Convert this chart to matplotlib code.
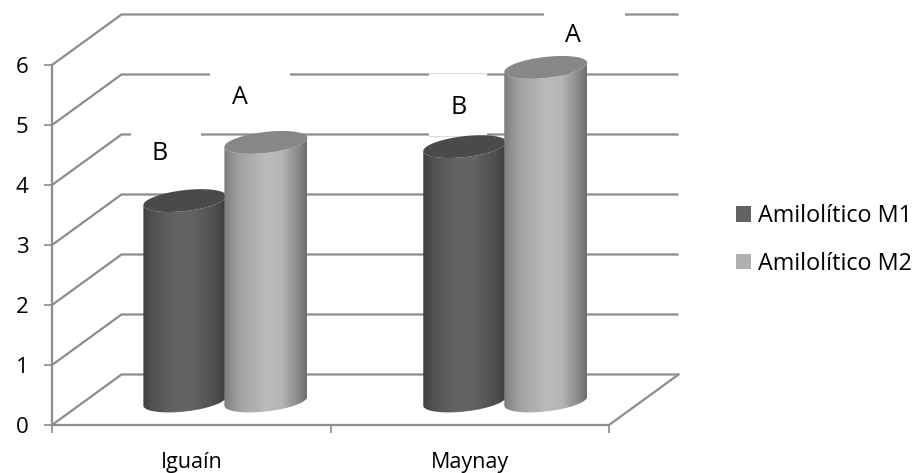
import numpy as np
import matplotlib
matplotlib.use("Agg")
import matplotlib.pyplot as plt
from matplotlib.colors import LinearSegmentedColormap
from matplotlib.patches import Polygon, Patch, Rectangle

categories = ["Iguaín", "Maynay"]
series_names = ["Amilolítico M1", "Amilolítico M2"]
m1_values = [3.34, 4.24]
m2_values = [4.31, 5.56]
y_ticks = [0, 1, 2, 3, 4, 5, 6]

W, H = 919, 473
X0, X_UNIT = 52, 278.5      # px position of x=0, px per category
Y0, Y_UNIT = 425, 60.0      # px position of y=0, px per unit
GRID = "#8c8c8c"
plt.rcParams["font.family"] = ["Open Sans", "DejaVu Sans"]

fig = plt.figure(figsize=(W / 100, H / 100), dpi=100, facecolor="white")
ax = fig.add_axes([X0 / W, (H - Y0) / H, (700 - X0) / W, Y0 / H])
ax.patch.set_alpha(0)

def px(x, y):
    return (x - X0) / X_UNIT, (Y0 - y) / Y_UNIT

# depth of the 3D box
dx, dy = 69.5 / X_UNIT, 50.5 / Y_UNIT
n = len(categories)

# walls and floor
for v in y_ticks:
    ax.plot([0, dx, n + dx], [v, v + dy, v + dy], color=GRID, lw=1.6, zorder=1,
            solid_capstyle="butt", solid_joinstyle="miter", clip_on=False)
ax.plot([n, n + dx], [0, dy], color=GRID, lw=1.6, zorder=1)

# axes
for s in ("top", "right"):
    ax.spines[s].set_visible(False)
for s in ("left", "bottom"):
    ax.spines[s].set_color(GRID)
    ax.spines[s].set_linewidth(1.6)
    ax.spines[s].set_zorder(2)
ax.spines["left"].set_bounds(0, max(y_ticks))
ax.spines["bottom"].set_bounds(0, n)
ax.set_yticks(y_ticks)
ax.set_xticks(range(n + 1))
ax.set_xticklabels([""] * (n + 1))
ax.set_xticks(np.arange(n) + 0.5, minor=True)
ax.set_xticklabels(categories, minor=True)
ax.tick_params(axis="both", which="major", length=5.5, width=1.2, color=GRID)
ax.tick_params(axis="y", labelsize=16, pad=11.5)
ax.tick_params(axis="x", which="minor", length=0, labelsize=15.5, pad=19.5)

# white boxes behind the letters
for (x1, y1, x2, y2, edge) in [
    (131, 128, 201, 172, False),
    (210, 68, 290, 112, False),
    (429, 73.5, 487, 136, True),
    (544, 8, 625, 50, False),
]:
    a, b = px(x1, y2)
    c, d = px(x2, y1)
    ax.add_patch(Rectangle((a, b), c - a, d - b, fc="white", ec="none", zorder=2.5))
    if edge:
        ax.plot([a, c], [b, b], color="#dddddd", lw=0.8, zorder=2.6)
        ax.plot([a, c], [d, d], color="#dddddd", lw=0.8, zorder=2.6)

cmaps = [
    LinearSegmentedColormap.from_list("m1", [(0, "#3f3f3f"), (.12, "#525252"), (.4, "#646464"),
                                             (.6, "#636363"), (.85, "#505050"), (1, "#3d3d3d")]),
    LinearSegmentedColormap.from_list("m2", [(0, "#7c7c7c"), (.15, "#9d9d9d"), (.5, "#bbbbbb"),
                                             (.7, "#b5b5b5"), (.9, "#888888"), (1, "#6e6e6e")]),
]
top_colors = ["#4a4a4a", "#878787"]

RX = 41.5 / X_UNIT
TILT = 4.5 / Y_UNIT
RY = 10.5 / Y_UNIT
BASE = 0.40
SHIFT = 40.5 / X_UNIT

def ellipse(cx, cy, t):
    return cx + RX * np.cos(t), cy + TILT * np.cos(t) + RY * np.sin(t)

def cylinder(cx, value, cmap, top, z):
    t = np.linspace(np.pi, 2 * np.pi, 60)
    xb, yb = ellipse(cx, BASE, t)
    xt, yt = ellipse(cx, BASE + value, t[::-1])
    verts = np.column_stack([np.r_[xb, xt], np.r_[yb, yt]])
    clip = Polygon(verts, closed=True, transform=ax.transData, fc="none", ec="none")
    ax.add_patch(clip)
    grad = np.linspace(0, 1, 256)[None, :]
    im = ax.imshow(grad, cmap=cmap, vmin=0, vmax=1, aspect="auto", interpolation="bilinear",
                   extent=(cx - RX, cx + RX, BASE - 0.5, BASE + value + 0.5), zorder=z)
    im.set_clip_path(clip)
    t2 = np.linspace(0, 2 * np.pi, 120)
    xe, ye = ellipse(cx, BASE + value, t2)
    ax.fill(xe, ye, color=top, lw=0, zorder=z + 0.1)

for i in range(n):
    centre = i * 1.005 + 0.5 + 0.1225
    cylinder(centre - SHIFT, m1_values[i], cmaps[0], top_colors[0], 3)
    cylinder(centre + SHIFT, m2_values[i], cmaps[1], top_colors[1], 3.5)

ax.set_xlim(0, (700 - X0) / X_UNIT)
ax.set_ylim(0, Y0 / Y_UNIT)

# letters
for (x, y, s) in [(160, 153, "B"), (240, 97, "A"), (459, 107, "B"), (573, 36, "A")]:
    a, b = px(x, y)
    ax.text(a, b, s, ha="center", va="center", fontsize=18, color="black", zorder=5)

# legend
handles = [Patch(fc="#636363", ec="none"), Patch(fc="#b0b0b0", ec="none")]
fig.legend(handles, series_names, loc="center left", bbox_to_anchor=(736 / W, 1 - 240 / H),
           frameon=False, fontsize=16.8, handlelength=0.64, handleheight=0.64, handletextpad=0.3,
           labelspacing=1.02, borderpad=0, borderaxespad=0)

fig.savefig("out.png", dpi=100, facecolor="white")
